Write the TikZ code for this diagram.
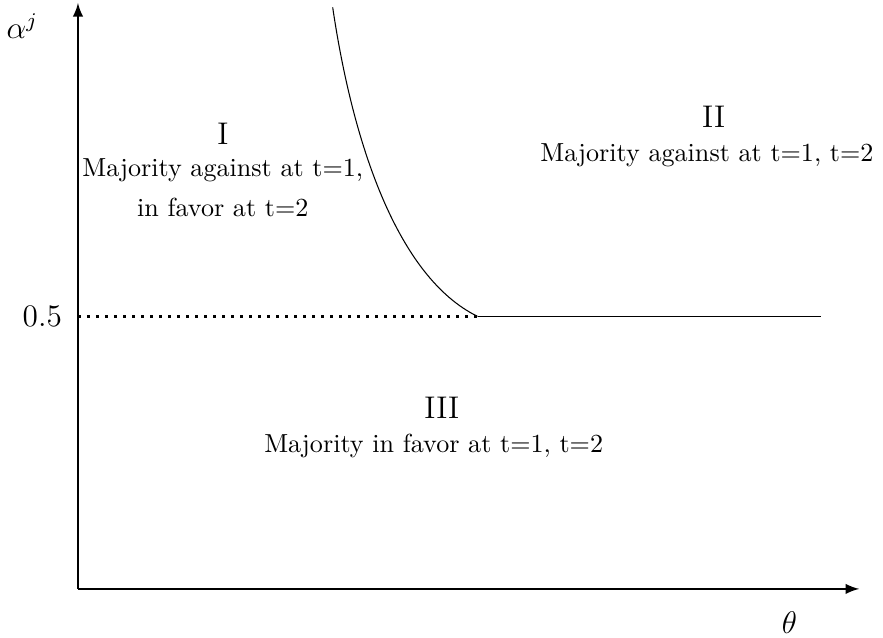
\documentclass[tikz,border=0pt]{standalone}
\usepackage{amsmath}
\usepackage{tikz}
\usetikzlibrary{positioning,arrows}

\begin{document}
\begin{tikzpicture}[axis/.style={line width=0.8pt,-latex},
    bound/.style={line width=0.4pt},
    region/.style={anchor=base,inner sep=0pt},
    numeral/.style={region,font=\large}]
  \useasboundingbox (-1.05,-0.66) rectangle (10.84,7.93);
  \coordinate (O) at (0,0);
  \coordinate (ytop) at (0,7.89);
  \coordinate (xend) at (10.52,0);
  \coordinate (half) at (0,3.67);
  \coordinate (kink) at (5.38,3.67);
  \coordinate (hend) at (10.01,3.67);
  \coordinate (ctop) at (3.43,7.83);

  \draw[axis] (O) -- (ytop);
  \draw[axis] (O) -- (xend);
  \node (alab) at (-0.75,7.58) {\large $\alpha^j$};
  \node (tlab) at (9.58,-0.45) {\large $\theta$};
  \node (hlab) at (-0.48,3.67) {\large $0.5$};

  \draw[line width=1pt, dash pattern=on 1pt off 2.45pt] (half) -- (kink);
  \draw[bound] (kink) -- (hend);
  \draw[bound] (ctop) .. controls (3.7,6.0) and (4.3,4.2) .. (kink);

  \node[numeral] (r1) at (1.95,5.98) {I};
  \node[region] (r1a) at (1.95,5.55) {Majority against at t=1,};
  \node[region] (r1b) at (1.95,5.02) {in favor at t=2};

  \node[numeral] (r2) at (8.56,6.21) {II};
  \node[region] (r2a) at (8.47,5.75) {Majority against at t=1, t=2};

  \node[numeral] (r3) at (4.90,2.30) {III};
  \node[region] (r3a) at (4.79,1.84) {Majority in favor at t=1, t=2};
\end{tikzpicture}
\end{document}
